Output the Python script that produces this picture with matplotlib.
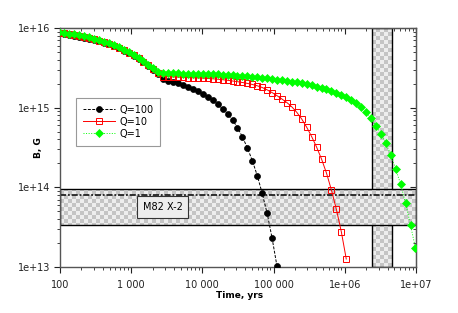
import matplotlib
matplotlib.use('Agg')
import matplotlib.pyplot as plt
import numpy as np
from matplotlib.colors import ListedColormap
from matplotlib.image import AxesImage

plt.rcParams['font.family'] = ['DejaVu Sans']
plt.rcParams['font.size'] = 7

# time grid, yrs (same sampling for all three runs)
time = [83.7, 98.2, 115, 135, 159, 186, 219, 257, 301, 353,
        414, 486, 571, 670, 786, 922, 1082, 1270, 1490, 1749,
        2053, 2409, 2827, 3317, 3893, 4568, 5361, 6291, 7383, 8664,
        10170, 11930, 14000, 16430, 19280, 22620, 26550, 31150, 36550, 42900,
        50340, 59070, 69320, 81350, 95470, 112000, 131500, 154300, 181000, 212500,
        249300, 292600, 343300, 402900, 472800, 554800, 651100, 764000, 896600, 1052000,
        1235000, 1449000, 1700000, 1995000, 2342000, 2748000, 3225000, 3784000, 4440000, 5211000,
        6115000, 7176000, 8421000, 9882000]

# B in units of 1e15 G
b_q100 = [8.74, 8.57, 8.40, 8.21, 8.02, 7.82, 7.59, 7.35, 7.10, 6.82,
          6.53, 6.22, 5.89, 5.54, 5.17, 4.80, 4.48, 4.10, 3.71, 3.35,
          3.00, 2.66, 2.29, 2.182, 2.107, 2.030, 1.932, 1.829, 1.721, 1.611,
          1.494, 1.366, 1.235, 1.100, 0.971, 0.843, 0.703, 0.563, 0.430, 0.313,
          0.217, 0.1406, 0.0841, 0.0472, 0.0231, 0.01015]

b_q10 = [8.91, 8.73, 8.55, 8.37, 8.17, 7.96, 7.74, 7.49, 7.23, 6.95,
         6.65, 6.34, 6.00, 5.64, 5.27, 4.89, 4.56, 4.18, 3.77, 3.41,
         3.06, 2.74, 2.456, 2.442, 2.428, 2.414, 2.400, 2.386, 2.373, 2.359,
         2.345, 2.325, 2.305, 2.278, 2.245, 2.207, 2.163, 2.119, 2.071, 2.018,
         1.955, 1.883, 1.792, 1.673, 1.547, 1.414, 1.282, 1.159, 1.023, 0.873,
         0.719, 0.568, 0.434, 0.320, 0.2265, 0.1511, 0.0925, 0.0530, 0.0277, 0.0126]

b_q1 = [9.06, 8.88, 8.70, 8.51, 8.31, 8.10, 7.87, 7.62, 7.36, 7.07,
        6.77, 6.45, 6.10, 5.74, 5.36, 4.97, 4.64, 4.25, 3.84, 3.47,
        3.11, 2.81, 2.694, 2.694, 2.694, 2.686, 2.678, 2.670, 2.663, 2.656,
        2.648, 2.640, 2.625, 2.610, 2.595, 2.580, 2.557, 2.528, 2.499, 2.470,
        2.435, 2.400, 2.366, 2.332, 2.291, 2.252, 2.213, 2.169, 2.125, 2.077,
        2.024, 1.966, 1.905, 1.834, 1.787, 1.712, 1.634, 1.547, 1.460, 1.351,
        1.245, 1.132, 1.012, 0.870, 0.740, 0.596, 0.473, 0.360, 0.254, 0.1697,
        0.1091, 0.0630, 0.0334, 0.0172]

labels = ['Q=100', 'Q=10', 'Q=1']

# M82 X-2 field estimate (horizontal band) and age range (vertical band)
m82_b_lo = 3.37e13
m82_b_hi = 9.6e13
m82_b_line = 8.1e13
m82_label = 'M82 X-2'
m82_label_pos = (2750, 5.66e13)
age_lo = 2.4e6
age_hi = 4.55e6

x_ticks = [1e2, 1e3, 1e4, 1e5, 1e6, 1e7]
x_ticklabels = ['100', '1 000', '10 000', '100 000', '1e+06', '1e+07']
y_ticks = [1e13, 1e14, 1e15, 1e16]
y_ticklabels = ['1e+13', '1e+14', '1e+15', '1e+16']


fig = plt.figure(figsize=(4.58, 3.13), dpi=100)
ax = fig.add_axes([0.131, 0.147, 0.777, 0.7635])
ax.set_xscale('log')
ax.set_yscale('log')
ax.set_xlim(1e2, 1e7)
ax.set_ylim(1e13, 1e16)
ax.set_autoscale_on(False)

# checkered bands
checker = np.indices((60, 89)).sum(axis=0) % 2
cmap = ListedColormap(['#ededed', '#c4c4c4'])


def checker_band(span, z):
    im = AxesImage(ax, cmap=cmap, interpolation='nearest', extent=(0, 1, 0, 1),
                   transform=ax.transAxes, zorder=z)
    im.set_data(checker)
    im.set_clip_path(span)
    ax.add_image(im)


vspan = ax.axvspan(age_lo, age_hi, facecolor='none', edgecolor='black', lw=1, zorder=1.05)
checker_band(vspan, 1.0)
hspan = ax.axhspan(m82_b_lo, m82_b_hi, facecolor='none', edgecolor='black', lw=1, zorder=1.15)
checker_band(hspan, 1.1)
ax.axhline(m82_b_line, color='black', lw=1.1, dashes=(4, 1.2, 1.2, 1.2), zorder=1.2)

ax.text(*m82_label_pos, m82_label, ha='center', va='center', fontsize=7, zorder=3,
        bbox=dict(boxstyle='square,pad=0.6', fc='#ededed', ec='#333333', lw=0.8))

# curves
t = np.array(time)
ax.plot(t[:len(b_q100)], np.array(b_q100) * 1e15, color='black', lw=0.7, dashes=(3, 1.5),
        marker='o', ms=4.3, mfc='black', mec='black', mew=0.5, label=labels[0], zorder=4)
ax.plot(t[:len(b_q10)], np.array(b_q10) * 1e15, color='red', lw=0.7,
        marker='s', ms=4.2, mfc='none', mec='red', mew=0.7, label=labels[1], zorder=4)
ax.plot(t[:len(b_q1)], np.array(b_q1) * 1e15, color='#00ff00', lw=0.7, ls=':',
        marker='D', ms=3.9, mfc='#00ff00', mec='#00ff00', mew=0.5, label=labels[2], zorder=5)

leg = ax.legend(loc='upper left', bbox_to_anchor=(0.045, 0.707), borderaxespad=0,
                fancybox=False, edgecolor='#999999', framealpha=1, fontsize=7,
                handlelength=3.3, handletextpad=0.45, labelspacing=0.2,
                borderpad=0.7, numpoints=1)
leg.get_frame().set_linewidth(0.8)

# axes, ticks
ax.set_xticks(x_ticks, x_ticklabels)
ax.set_yticks(y_ticks, y_ticklabels)
ax.tick_params(which='both', direction='out', colors='#222222')
ax.tick_params(which='major', length=4)
ax.tick_params(which='minor', length=2.5)
ax.tick_params(axis='x', pad=5.5)
ax.tick_params(axis='y', pad=3)
for s in ax.spines.values():
    s.set_color('#555555')
    s.set_linewidth(1)

top = ax.secondary_xaxis('top')
top.tick_params(which='both', direction='in', labeltop=False, colors='#222222')
top.tick_params(which='major', length=4)
top.tick_params(which='minor', length=2.5)
top.set_xticks(x_ticks)
right = ax.secondary_yaxis('right')
right.tick_params(which='both', direction='in', labelright=False, colors='#222222')
right.tick_params(which='major', length=4)
right.tick_params(which='minor', length=2.5)
right.set_yticks(y_ticks)
for sec in (top, right):
    for s in sec.spines.values():
        s.set_color('#555555')

ax.set_xlabel('Time, yrs', fontweight='bold', fontsize=6.5)
ax.set_ylabel('B, G', fontweight='bold', fontsize=6.5)
ax.xaxis.set_label_coords(0.505, -0.1)
ax.yaxis.set_label_coords(-0.048, 0.5)

fig.savefig('out.png', dpi=100)
